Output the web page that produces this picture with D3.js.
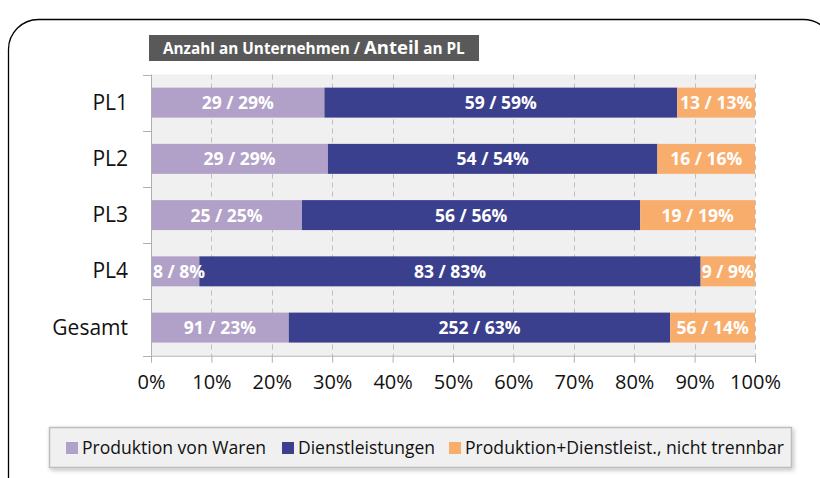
<!DOCTYPE html>
<html><head><meta charset="utf-8">
<script src="https://cdn.jsdelivr.net/npm/d3@7"></script>
<style>
html,body{margin:0;padding:0;background:#fff;}
svg{display:block;font-family:"Open Sans","Noto Sans",sans-serif;}
</style></head>
<body>
<svg id="chart" width="820" height="478"></svg>
<script>
const categories = ["PL1","PL2","PL3","PL4","Gesamt"];
const seriesNames = ["Produktion von Waren","Dienstleistungen","Produktion+Dienstleist., nicht trennbar"];
const warenCounts = [29,29,25,8,91];
const dienstCounts = [59,54,56,83,252];
const beidesCounts = [13,16,19,9,56];
const warenPct = [29,29,25,8,23];
const dienstPct = [59,54,56,83,63];
const beidesPct = [13,16,19,9,14];
const tickValues = [0,0.1,0.2,0.3,0.4,0.5,0.6,0.7,0.8,0.9,1];
const colors = ["#b1a1c8","#3b408e","#f9ad6d"];

const svg = d3.select("#chart");

// outer frame
svg.append("rect").attr("x",8.5).attr("y",19.5).attr("width",825).attr("height",500)
  .attr("rx",30).attr("ry",30).attr("fill","#fff").attr("stroke","#000").attr("stroke-width",1.3);

// title
const tg = svg.append("g");
tg.append("rect").attr("x",149).attr("y",35).attr("width",330).attr("height",26).attr("fill","#595959");
const tt = tg.append("text").attr("x",163).attr("y",54).attr("fill","#fff").attr("font-weight","bold").attr("font-size",15.3);
tt.append("tspan").text("Anzahl an Unternehmen / ");
tt.append("tspan").attr("font-size",18.5).text("Anteil");
tt.append("tspan").text(" an PL");

const x = d3.scaleLinear().domain([0,1]).range([151,755]);
const y = d3.scaleBand().domain(categories).range([74.5,355.7]).paddingInner(0.467).paddingOuter(0.2335);

// plot background
svg.append("rect").attr("x",x(0)).attr("y",74.5).attr("width",x(1)-x(0)).attr("height",355.7-74.5).attr("fill","#f0f0f0");

// gridlines
svg.append("g").selectAll("line").data(tickValues.slice(1)).join("line")
  .attr("x1",d=>Math.round(x(d))+0.5).attr("x2",d=>Math.round(x(d))+0.5)
  .attr("y1",74.5).attr("y2",355.7)
  .attr("stroke","#bfbfbf").attr("stroke-dasharray","5,4").attr("stroke-width",1);

// data rows
const rows = categories.map((c,i)=>{
  const counts=[warenCounts[i],dienstCounts[i],beidesCounts[i]];
  const pcts=[warenPct[i],dienstPct[i],beidesPct[i]];
  const total=d3.sum(counts);
  let acc=0;
  return counts.map((v,k)=>{const s=acc/total; acc+=v; return {cat:c,k,x0:s,x1:acc/total,label:v+" / "+pcts[k]+"%"};});
}).flat();

const bars = svg.append("g");
bars.selectAll("rect").data(rows).join("rect")
  .attr("x",d=>x(d.x0)).attr("width",d=>x(d.x1)-x(d.x0))
  .attr("y",d=>y(d.cat)).attr("height",y.bandwidth())
  .attr("fill",d=>colors[d.k]);
const labels = bars.selectAll("text").data(rows).join("text")
  .attr("x",d=>(x(d.x0)+x(d.x1))/2).attr("y",d=>y(d.cat)+y.bandwidth()/2+6.5)
  .attr("text-anchor","middle").attr("fill","#fff").attr("font-weight","bold").attr("font-size",17.5)
  .text(d=>d.label);
// keep labels inside the plot area
labels.each(function(d){
  const w=this.getComputedTextLength();
  let cx=(x(d.x0)+x(d.x1))/2;
  if(cx-w/2<x(0)+2) cx=x(0)+2+w/2;
  if(cx+w/2>x(1)) cx=x(1)-w/2;
  d3.select(this).attr("x",cx);
});

// bottom axis
const xAxis = d3.axisBottom(x).tickValues(tickValues).tickFormat(d3.format(".0%")).tickSize(7).tickSizeOuter(0);
const gx = svg.append("g").attr("transform","translate(0,355.7)").call(xAxis);
gx.select(".domain").attr("stroke","#b0b0b0");
gx.selectAll(".tick line").attr("stroke","#b0b0b0");
gx.selectAll(".tick text").attr("font-size",20).attr("fill","#111").attr("font-family","'Open Sans',sans-serif").attr("dy","0.55em").attr("y",22);

// left axis
const gy = svg.append("g").attr("transform","translate(151,0)");
gy.append("line").attr("x1",0.5).attr("x2",0.5).attr("y1",74.5).attr("y2",355.7).attr("stroke","#b0b0b0");
const bounds = d3.range(categories.length+1).map(i=>74.5+i*y.step());
gy.selectAll(".b").data(bounds).join("line").attr("class","b")
  .attr("x1",-8).attr("x2",0).attr("y1",d=>Math.round(d)+0.5).attr("y2",d=>Math.round(d)+0.5).attr("stroke","#b0b0b0");
gy.selectAll("text").data(categories).join("text")
  .attr("x",-23).attr("y",d=>y(d)+y.bandwidth()/2+7).attr("text-anchor","end")
  .attr("font-size",21).attr("fill","#111").text(d=>d);

// legend
const defs = svg.append("defs");
const f = defs.append("filter").attr("id","sh").attr("x","-5%").attr("y","-30%").attr("width","110%").attr("height","170%");
f.append("feDropShadow").attr("dx",1.5).attr("dy",2).attr("stdDeviation",2).attr("flood-color","#000").attr("flood-opacity",0.25);
const lg = svg.append("g");
lg.append("rect").attr("x",49.5).attr("y",427.5).attr("width",742).attr("height",40)
  .attr("fill","#f0f0f0").attr("stroke","#bdbdbd").attr("stroke-width",1.5).attr("filter","url(#sh)");
const legX = [66,282,449];
seriesNames.forEach((n,i)=>{
  lg.append("rect").attr("x",legX[i]).attr("y",442).attr("width",12).attr("height",12).attr("fill",colors[i]);
  lg.append("text").attr("x",legX[i]+16).attr("y",454).attr("font-size",17.4).attr("fill","#111")
    .attr("textLength",i===0?184:i===1?137:319).attr("lengthAdjust","spacingAndGlyphs").text(n);
});
</script>
</body></html>
